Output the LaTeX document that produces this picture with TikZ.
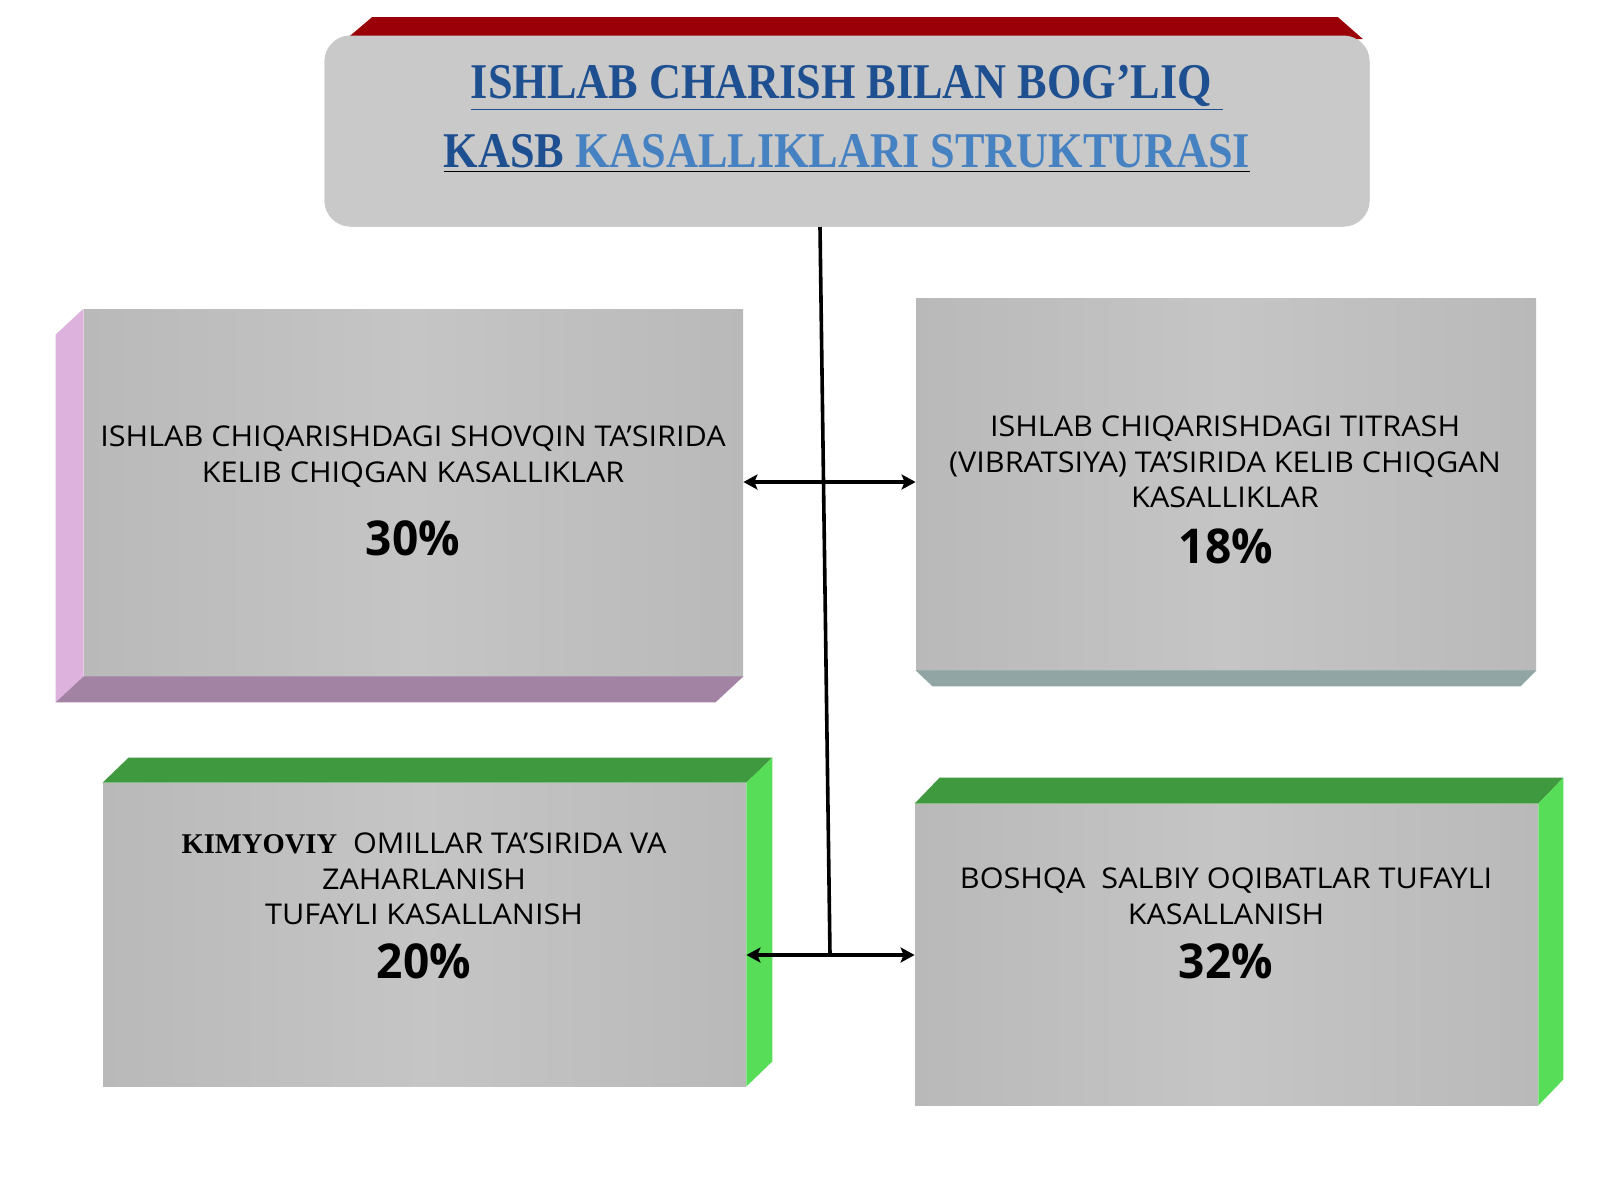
\documentclass[tikz,border=0pt]{standalone}
\usepackage{fontspec}
\setmainfont{Liberation Serif}
\newfontfamily\titlefont[FakeStretch=0.885]{Liberation Serif}
\newfontfamily\boxfont[FakeStretch=1.07]{Open Sans}
\newfontfamily\pctfont[FakeStretch=0.96]{Open Sans}
\usetikzlibrary{calc,arrows.meta}
\definecolor{facemid}{HTML}{C5C5C5}
\definecolor{faceedge}{HTML}{B9B9B9}
\definecolor{titlegray}{HTML}{C9C9C9}
\definecolor{bandred}{HTML}{9A0008}
\definecolor{pinkside}{HTML}{DDB2DD}
\definecolor{pinkbottom}{HTML}{A283A4}
\definecolor{tealbottom}{HTML}{91A5A5}
\definecolor{greentop}{HTML}{3F9A3F}
\definecolor{greenside}{HTML}{57DD57}
\definecolor{titleblue}{HTML}{1D4F91}
\definecolor{titlelight}{HTML}{4682C2}
\begin{document}
\begin{tikzpicture}[x=0.5pt,y=-0.5pt,
  face/.style={draw=none, inner sep=0pt, left color=faceedge, right color=faceedge, middle color=facemid},
  boxtext/.style={align=center, inner sep=0pt, font=\boxfont\fontsize{14.3}{17.8}\selectfont},
  pct/.style={inner sep=0pt, font=\pctfont\bfseries\fontsize{24}{28}\selectfont},
  link/.style={line width=1.8pt},
  >={Stealth[length=7pt,width=7.5pt,inset=1.5pt]}]
\useasboundingbox[fill=white] (0,0) rectangle (1600,1200);

% title
\node[fill=titlegray, rounded corners=13pt, minimum width=522.5pt, minimum height=95.5pt] (title) at (847,131) {};
\fill[bandred] ($(title.north west)+(22,4)$) -- ($(title.north west)+(48,-18)$) -- ($(title.north east)+(-32,-18)$) -- ($(title.north east)+(-7,4)$) -- cycle;
\node[fill=titlegray, rounded corners=13pt, minimum width=522.5pt, minimum height=95.5pt] (titlebox) at (title) {};
\node[align=center, inner sep=0pt, font=\titlefont\bfseries\fontsize{25}{34.5}\selectfont] (titletext) at (847,119)
  {\color{titleblue}\underline{ISHLAB CHARISH BILAN BOG’LIQ\ }\\
   \underline{\color{titleblue}KASB \color{titlelight}KASALLIKLARI STRUKTURASI}};

% boxes
\node[face, minimum width=329.5pt, minimum height=183.5pt] (l1) at (413.5,492.5) {};
\fill[pinkside] (l1.north west) -- ($(l1.north west)+(-28,26)$) -- ($(l1.south west)+(-28,26)$) -- (l1.south west) -- cycle;
\fill[pinkbottom] (l1.south west) -- ($(l1.south west)+(-28,26)$) -- ($(l1.south east)+(-28,26)$) -- (l1.south east) -- cycle;

\node[face, minimum width=310pt, minimum height=186pt] (r1) at (1226,484) {};
\fill[tealbottom] (r1.south west) -- ($(r1.south west)+(17,16)$) -- ($(r1.south east)+(-16,16)$) -- (r1.south east) -- cycle;

\node[face, minimum width=321.5pt, minimum height=151.5pt] (l2) at (424.5,934.5) {};
\fill[greentop] (l2.north west) -- ($(l2.north west)+(26,-25)$) -- ($(l2.north east)+(26,-25)$) -- (l2.north east) -- cycle;
\fill[greenside] (l2.north east) -- ($(l2.north east)+(26,-25)$) -- ($(l2.south east)+(26,-25)$) -- (l2.south east) -- cycle;

\node[face, minimum width=311.5pt, minimum height=150.5pt] (r2) at (1226.5,954.5) {};
\fill[greentop] (r2.north west) -- ($(r2.north west)+(25,-26)$) -- ($(r2.north east)+(25,-26)$) -- (r2.north east) -- cycle;
\fill[greenside] (r2.north east) -- ($(r2.north east)+(25,-26)$) -- ($(r2.south east)+(25,-26)$) -- (r2.south east) -- cycle;

% texts
\node[boxtext] (l1text) at (413,456.5) {ISHLAB CHIQARISHDAGI SHOVQIN TA’SIRIDA\\KELIB CHIQGAN KASALLIKLAR};
\node[pct] (l1pct) at (413,538) {30\%};
\node[boxtext] (r1text) at (1225,462) {ISHLAB CHIQARISHDAGI TITRASH\\(VIBRATSIYA) TA’SIRIDA KELIB CHIQGAN\\KASALLIKLAR};
\node[pct] (r1pct) at (1226,546) {18\%};
\node[boxtext] (l2text) at (424,879) {{\rmfamily\bfseries KIMYOVIY}\ \ OMILLAR TA’SIRIDA VA\\ZAHARLANISH\\TUFAYLI KASALLANISH};
\node[pct] (l2pct) at (424,961) {20\%};
\node[boxtext] (r2text) at (1226,896.5) {BOSHQA\ \ SALBIY OQIBATLAR TUFAYLI\\KASALLANISH};
\node[pct] (r2pct) at (1226,961) {32\%};

% connectors
\coordinate (trunktop) at (820,227);
\coordinate (trunkbot) at (830,955);
\coordinate (j1) at (823.5,482);
\draw[link] (trunktop) -- (trunkbot);
\draw[link, <->] (l1.east |- j1) -- (r1.west |- j1);
\draw[link, <->] (l2.east |- trunkbot) -- (r2.west |- trunkbot);
\end{tikzpicture}
\end{document}
